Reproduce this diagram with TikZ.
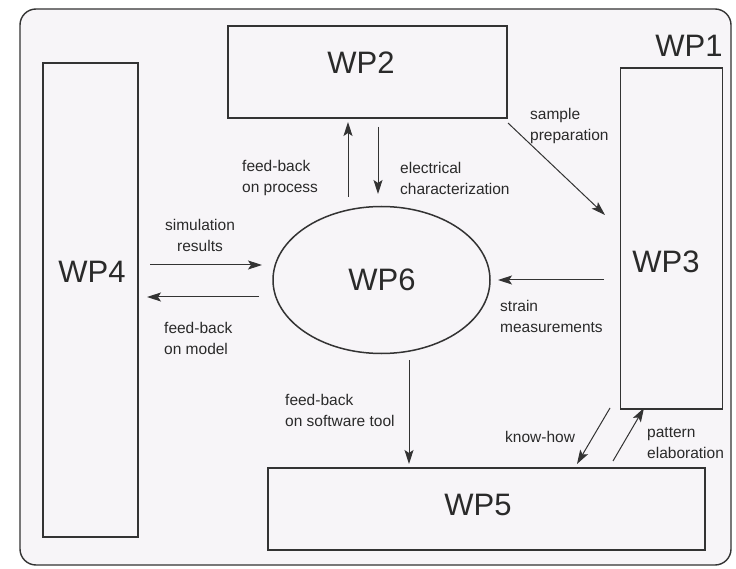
\documentclass[tikz,border=0pt]{standalone}
\usepackage{fontspec}
\setmainfont{Liberation Sans}
\usetikzlibrary{arrows.meta,shapes.geometric}
\definecolor{bg}{HTML}{F7F5F8}
\definecolor{ln}{HTML}{333333}
\definecolor{tx}{HTML}{2A2A2A}
\begin{document}
\begin{tikzpicture}[x=1pt,y=-1pt,
  wpbox/.style={draw=ln, line width=1.5pt, inner sep=0pt},
  wptext/.style={font=\fontsize{31}{36}\selectfont, text=tx, inner sep=0pt},
  lbl/.style={font=\fontsize{15.5}{21}\selectfont, text=tx, inner sep=0pt, align=left, anchor=west},
  arr/.style={draw=ln, line width=1pt, -{Stealth[length=14pt,width=9pt,inset=3pt]}}]
\useasboundingbox (0,0) rectangle (736,569);
\fill[white] (0,0) rectangle (736,569);
% outer frame
\draw[ln, line width=1.4pt, fill=bg, rounded corners=16pt] (20,9) rectangle (731,565);
% boxes
\node[wpbox, minimum width=279pt, minimum height=92pt] (wp2) at (367.5,72) {};
\node[wpbox, minimum width=102pt, minimum height=341pt] (wp3) at (671.5,238.5) {};
\node[wpbox, minimum width=95pt, minimum height=474pt] (wp4) at (90.5,300) {};
\node[wpbox, minimum width=437pt, minimum height=82pt] (wp5) at (486.5,509) {};
\node[draw=ln, line width=1.5pt, ellipse, minimum width=217pt, minimum height=147pt, inner sep=0pt] (wp6) at (381.5,280) {};
% box texts
\node[wptext] (t2) at (361,63) {WP2};
\node[wptext] (t1) at (689,46) {WP1};
\node[wptext] (t3) at (666,262) {WP3};
\node[wptext] (t4) at (92,272) {WP4};
\node[wptext] (t5) at (478,505) {WP5};
\node[wptext] (t6) at (382,280) {WP6};
% arrow end points
\coordinate (a1s) at (348,197); \coordinate (a1e) at (348,122);
\coordinate (a2s) at (378,127); \coordinate (a2e) at (378,194);
\coordinate (a3s) at (508,123); \coordinate (a3e) at (605,215);
\coordinate (a4s) at (604,280); \coordinate (a4e) at (498,280);
\coordinate (a5s) at (150,265); \coordinate (a5e) at (262,265);
\coordinate (a6s) at (259,297); \coordinate (a6e) at (147,297);
\coordinate (a7s) at (409,360); \coordinate (a7e) at (409,464);
\coordinate (a8s) at (610,408); \coordinate (a8e) at (577,464);
\coordinate (a9s) at (613,461); \coordinate (a9e) at (644,408);
\draw[arr] (a1s) -- (a1e);
\draw[arr] (a2s) -- (a2e);
\draw[arr] (a3s) -- (a3e);
\draw[arr] (a4s) -- (a4e);
\draw[arr] (a5s) -- (a5e);
\draw[arr] (a6s) -- (a6e);
\draw[arr] (a7s) -- (a7e);
\draw[arr] (a8s) -- (a8e);
\draw[arr] (a9s) -- (a9e);
% labels
\node[lbl] (l1) at (242,178) {feed-back\\on process};
\node[lbl] (l2) at (400,178) {electrical\\characterization};
\node[lbl] (l3) at (530,126) {sample\\preparation};
\node[lbl, align=center, anchor=center] (l4) at (200,235) {simulation\\results};
\node[lbl] (l5) at (164,338) {feed-back\\on model};
\node[lbl] (l6) at (500,316) {strain\\measurements};
\node[lbl] (l7) at (285,410) {feed-back\\on software tool};
\node[lbl] (l8) at (505,437) {know-how};
\node[lbl] (l9) at (647,443) {pattern\\elaboration};
\end{tikzpicture}
\end{document}
